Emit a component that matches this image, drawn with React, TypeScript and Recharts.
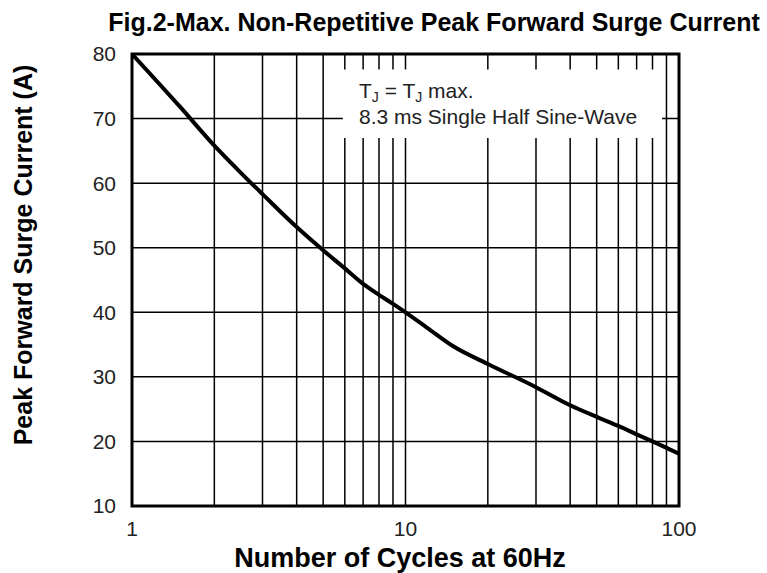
import { ComposedChart, Line, XAxis, YAxis, CartesianGrid, ReferenceArea } from 'recharts';

// ── Data ──────────────────────────────────────────────────────────────────────

const cycles = [1, 1.5, 2, 2.5, 3, 4, 5, 6, 7, 8, 9, 10, 12, 15, 20, 30, 40, 50, 60, 70, 80, 90, 100];
const surgeCurrent = [80, 71.8, 65.8, 61.6, 58.3, 53.2, 49.6, 46.8, 44.4, 42.7, 41.3, 40.0, 37.6, 34.7, 32.0, 28.4, 25.6, 23.8, 22.4, 21.1, 20.0, 19.0, 18.1];

const xTicks = [1, 2, 3, 4, 5, 6, 7, 8, 9, 10, 20, 30, 40, 50, 60, 70, 80, 90, 100];
const xLabelled = [1, 10, 100];
const yTicks = [10, 20, 30, 40, 50, 60, 70, 80];

const title = 'Fig.2-Max. Non-Repetitive Peak Forward Surge Current';
const xTitle = 'Number of Cycles at 60Hz';
const yTitle = 'Peak Forward Surge Current (A)';
const noteLine2 = '8.3 ms Single Half Sine-Wave';

const data = cycles.map((c, i) => ({ cycles: c, current: surgeCurrent[i] }));

const FONT = '"Liberation Sans", Arial, Helvetica, sans-serif';

export default function App() {
  return (
    <div style={{ position: 'absolute', left: 0, top: 0, width: 767, height: 573, background: '#fff' }}>
      <ComposedChart
        width={767}
        height={573}
        data={data}
        margin={{ top: 54, right: 88, left: 0, bottom: 0 }}
      >
        <CartesianGrid stroke="#000" strokeWidth={1.5} />
        <XAxis
          dataKey="cycles"
          type="number"
          scale="log"
          domain={[1, 100]}
          allowDataOverflow
          ticks={xTicks}
          interval={0}
          tickFormatter={(v: number) => (xLabelled.includes(v) ? String(v) : '')}
          tickLine={false}
          axisLine={false}
          tickMargin={9}
          height={67}
          tick={{ fill: '#222', fontSize: 21, fontFamily: FONT }}
        />
        <YAxis
          type="number"
          domain={[10, 80]}
          ticks={yTicks}
          interval={0}
          tickLine={false}
          axisLine={false}
          tickMargin={10}
          width={132}
          tick={{ fill: '#222', fontSize: 21, fontFamily: FONT }}
        />
        {/* white box behind the note */}
        <ReferenceArea x1={5.9} x2={86.7} y1={67} y2={77.6} fill="#fff" fillOpacity={1} stroke="none" ifOverflow="hidden" />
        <Line
          dataKey="current"
          type="monotone"
          stroke="#000"
          strokeWidth={4}
          dot={false}
          activeDot={false}
          isAnimationActive={false}
        />
        {/* frame */}
        <ReferenceArea x1={1} x2={100} y1={10} y2={80} fill="none" stroke="#000" strokeWidth={3} ifOverflow="visible" />
      </ComposedChart>

      <svg
        width={767}
        height={573}
        style={{ position: 'absolute', left: 0, top: 0, pointerEvents: 'none' }}
        fontFamily={FONT}
      >
        <text x={434} y={31} textAnchor="middle" fontSize={25} fontWeight="bold" fill="#000">
          {title}
        </text>
        <text x={400} y={567} textAnchor="middle" fontSize={27} fontWeight="bold" fill="#000">
          {xTitle}
        </text>
        <text
          x={32}
          y={255}
          textAnchor="middle"
          fontSize={25}
          fontWeight="bold"
          fill="#000"
          transform="rotate(-90 32 255)"
        >
          {yTitle}
        </text>
        <text x={359} y={98} fontSize={21} fill="#222">
          T<tspan fontSize={14} dy={4}>J</tspan>
          <tspan dy={-4}> = T</tspan>
          <tspan fontSize={14} dy={4}>J</tspan>
          <tspan dy={-4}> max.</tspan>
        </text>
        <text x={359} y={124} fontSize={21} fill="#222">
          {noteLine2}
        </text>
      </svg>
    </div>
  );
}
